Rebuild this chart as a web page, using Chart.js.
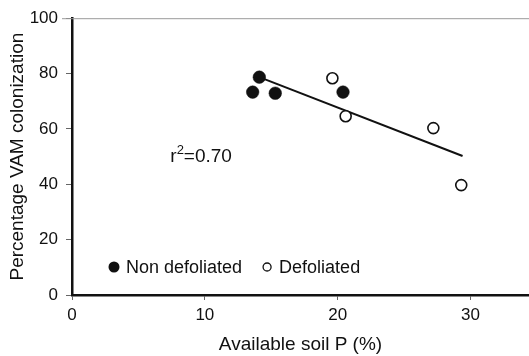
<!DOCTYPE html>
<html>
<head>
<meta charset="utf-8">
<script src="https://cdn.jsdelivr.net/npm/chart.js@4.4.1/dist/chart.umd.min.js"></script>
<style>
  html, body { margin: 0; padding: 0; background: #ffffff; }
  #wrap { width: 529px; height: 356px; position: relative; }
</style>
</head>
<body>
<div id="wrap"><canvas id="c" width="529" height="356"></canvas></div>
<script>
// Available soil P (%) and VAM colonization (%) per plot
const nonDefoliatedP = [13.6, 14.1, 15.3, 20.4];
const nonDefoliatedVAM = [73.3, 78.7, 72.9, 73.3];
const defoliatedP = [19.6, 20.6, 27.2, 29.3];
const defoliatedVAM = [78.3, 64.6, 60.3, 39.7];

// Fitted regression line end points
const fitP = [14.1, 29.4];
const fitVAM = [78.7, 50.2];

const xTicks = [0, 10, 20, 30];
const yTicks = [0, 20, 40, 60, 80, 100];
const r2Label = { base: 'r', sup: '2', rest: '=0.70', x: 7.4, y: 50 };

const FONT = '"Liberation Sans", Arial, Helvetica, sans-serif';
const INK = '#111111';

const toPoints = (xs, ys) => xs.map((x, i) => ({ x: x, y: ys[i] }));

// Legend drawn inside the plot area, plus the thin frame line on top and r² note
const annotations = {
  id: 'annotations',
  afterDraw(chart) {
    const { ctx, chartArea, scales } = chart;
    ctx.save();
    // thin top frame line
    ctx.strokeStyle = '#9a9a9a';
    ctx.lineWidth = 1;
    ctx.beginPath();
    ctx.moveTo(chartArea.left - 10, chartArea.top + 0.5);
    ctx.lineTo(chart.width, chartArea.top + 0.5);
    ctx.stroke();

    // r² text
    ctx.fillStyle = INK;
    ctx.textBaseline = 'middle';
    ctx.textAlign = 'left';
    const tx = scales.x.getPixelForValue(r2Label.x);
    const ty = scales.y.getPixelForValue(r2Label.y);
    ctx.font = '19px ' + FONT;
    ctx.fillText(r2Label.base, tx, ty);
    let w = ctx.measureText(r2Label.base).width;
    ctx.font = '13px ' + FONT;
    ctx.fillText(r2Label.sup, tx + w, ty - 6);
    w += ctx.measureText(r2Label.sup).width;
    ctx.font = '19px ' + FONT;
    ctx.fillText(r2Label.rest, tx + w, ty);

    // legend
    const ly = chartArea.bottom - 28;
    let lx = chartArea.left + 42;
    const items = chart.data.datasets.filter(d => d.showInLegend);
    ctx.font = '18px ' + FONT;
    items.forEach(d => {
      ctx.beginPath();
      ctx.arc(lx, ly, d.legendRadius, 0, Math.PI * 2);
      if (d.legendFilled) {
        ctx.fillStyle = INK;
        ctx.fill();
      } else {
        ctx.fillStyle = '#ffffff';
        ctx.fill();
        ctx.lineWidth = 1.3;
        ctx.strokeStyle = INK;
        ctx.stroke();
      }
      ctx.fillStyle = INK;
      ctx.fillText(d.label, lx + 12, ly + 1);
      lx += 12 + ctx.measureText(d.label).width + 25;
    });
    ctx.restore();
  }
};

new Chart(document.getElementById('c'), {
  type: 'scatter',
  data: {
    datasets: [
      {
        type: 'line',
        label: 'fit',
        data: toPoints(fitP, fitVAM),
        borderColor: INK,
        borderWidth: 2,
        pointRadius: 0,
        fill: false,
        order: 3
      },
      {
        label: 'Non defoliated',
        data: toPoints(nonDefoliatedP, nonDefoliatedVAM),
        backgroundColor: INK,
        borderColor: INK,
        pointRadius: 6.3,
        borderWidth: 0.5,
        showInLegend: true,
        legendFilled: true,
        legendRadius: 5.5,
        order: 1
      },
      {
        label: 'Defoliated',
        data: toPoints(defoliatedP, defoliatedVAM),
        backgroundColor: '#ffffff',
        borderColor: INK,
        pointRadius: 5.5,
        borderWidth: 1.6,
        showInLegend: true,
        legendFilled: false,
        legendRadius: 4,
        order: 2
      }
    ]
  },
  options: {
    responsive: false,
    animation: false,
    devicePixelRatio: 1,
    layout: { autoPadding: false, padding: { top: 18, right: 0, left: 0, bottom: 0 } },
    plugins: {
      legend: { display: false },
      tooltip: { enabled: false }
    },
    scales: {
      x: {
        type: 'linear',
        min: 0,
        max: 34.4,
        afterBuildTicks(scale) { scale.ticks = xTicks.map(v => ({ value: v })); },
        afterFit(scale) { scale.height = 61; scale.paddingRight = 0; scale.paddingLeft = 0; },
        grid: { display: true, drawOnChartArea: false, drawTicks: true, tickLength: 5, color: '#666666', lineWidth: 1 },
        border: { display: true, color: INK, width: 2.5 },
        ticks: { color: INK, font: { family: FONT, size: 17 }, padding: 5 },
        title: { display: true, text: 'Available soil P (%)', color: INK, font: { family: FONT, size: 19 }, padding: { top: 2, bottom: 0 } }
      },
      y: {
        type: 'linear',
        min: 0,
        max: 100,
        afterBuildTicks(scale) { scale.ticks = yTicks.map(v => ({ value: v })); },
        afterFit(scale) { scale.width = 72; },
        grid: { display: true, drawOnChartArea: false, drawTicks: true, tickLength: 6, color: '#666666', lineWidth: 1 },
        border: { display: true, color: INK, width: 2.5 },
        ticks: { color: INK, font: { family: FONT, size: 17 }, padding: 8 },
        title: { display: true, text: 'Percentage VAM colonization', color: INK, font: { family: FONT, size: 19 }, padding: { top: 6, bottom: 0 } }
      }
    }
  },
  plugins: [annotations]
});
</script>
</body>
</html>
